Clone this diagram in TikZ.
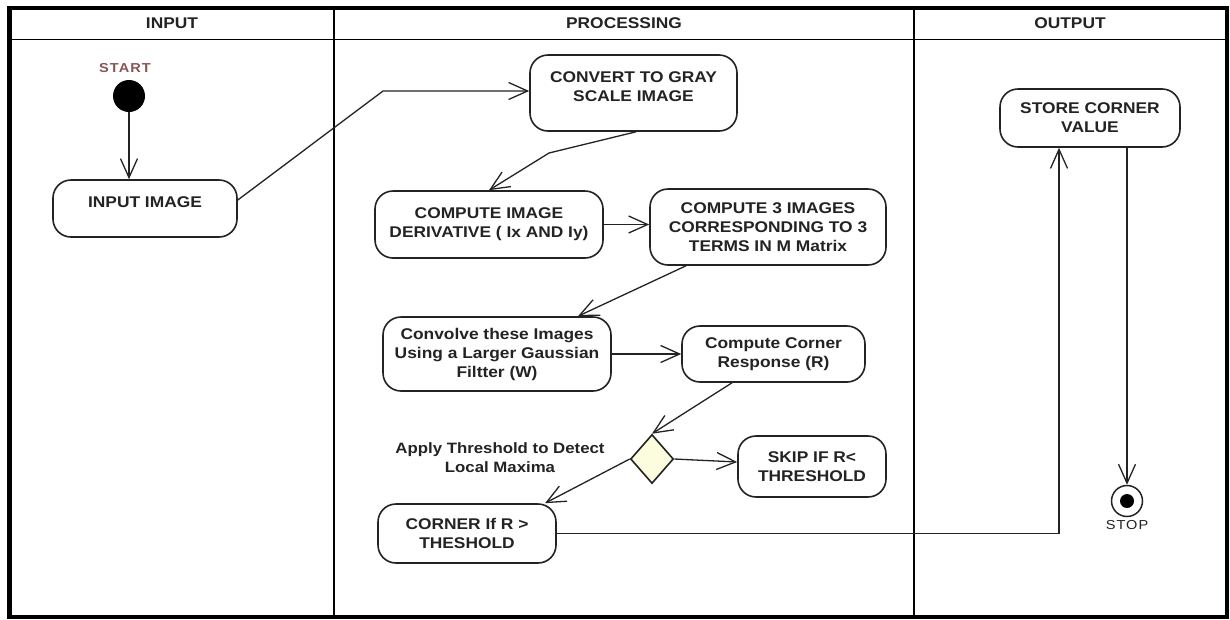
\documentclass[tikz,border=0pt]{standalone}
\usepackage{fontspec}
\setmainfont{Liberation Sans}[FakeStretch=1.12]
\newfontfamily\spacedfont{Liberation Sans}[FakeStretch=1.12,LetterSpace=8]
\usetikzlibrary{arrows.meta,shapes.geometric,calc}
\definecolor{inkc}{RGB}{35,35,35}
\definecolor{startc}{RGB}{135,85,85}
\definecolor{diamc}{RGB}{252,252,222}
\begin{document}
\begin{tikzpicture}[x=1pt,y=-1pt,
  actbox/.style={draw=inkc, line width=1.6pt, rounded corners=18pt, align=center,
    font=\fontsize{15.5}{19}\selectfont\bfseries, text=inkc, inner sep=0pt},
  flow/.style={draw=inkc, line width=1.3pt,
    -{Straight Barb[length=19pt,width=17pt,line width=1.3pt]}},
  lane/.style={draw=black, line width=1.5pt},
  headtxt/.style={font=\fontsize{15.5}{19}\selectfont\bfseries, text=inkc},
  smalltxt/.style={font=\spacedfont\fontsize{13}{15}\selectfont},
]
\useasboundingbox (0,0) rectangle (1230,619);
\fill[white] (0,0) rectangle (1230,619);
% frame and lanes
\draw[lane] (9.5,39.5) -- (1227,39.5);
\draw[lane] (334,8) -- (334,617);
\draw[lane] (914,8) -- (914,617);
\draw[line width=4.5pt] (9.5,8) rectangle (1227,617);
\node[headtxt] (hin) at (172,23) {INPUT};
\node[headtxt] (hproc) at (624,23) {PROCESSING};
\node[headtxt] (hout) at (1070,23) {OUTPUT};

% start
\node[smalltxt, font=\spacedfont\bfseries\fontsize{13}{15}\selectfont, text=startc] (startlbl) at (125,68) {START};
\node[circle, fill=black, minimum size=32pt, inner sep=0pt] (start) at (129,96) {};

% activity boxes
\node[actbox, minimum width=184pt, minimum height=57pt] (inimg) at (145,208.5) {INPUT IMAGE\\[-12pt]\strut};
\node[actbox, minimum width=207pt, minimum height=76pt] (convert) at (633.5,93) {CONVERT TO GRAY\\SCALE IMAGE\\[-12pt]\strut};
\node[actbox, minimum width=228pt, minimum height=67pt] (deriv) at (489,224.5) {COMPUTE IMAGE\\DERIVATIVE ( Ix AND Iy)};
\node[actbox, minimum width=236pt, minimum height=76pt] (three) at (768,227) {COMPUTE 3 IMAGES\\CORRESPONDING TO 3\\TERMS IN M Matrix};
\node[actbox, minimum width=228pt, minimum height=74pt] (convolve) at (497,354) {Convolve these Images\\Using a Larger Gaussian\\Filtter (W)};
\node[actbox, minimum width=183pt, minimum height=56pt] (cresp) at (773.5,354) {Compute Corner\\Response (R)};
\node[diamond, draw=inkc, fill=diamc, line width=1.6pt, minimum width=43pt, minimum height=49pt, inner sep=0pt] (dec) at (652,459) {};
\node[font=\fontsize{15}{19}\selectfont\bfseries, text=inkc, align=center] (thr) at (500,457.5) {Apply Threshold to Detect\\Local Maxima};
\node[actbox, minimum width=148pt, minimum height=61pt] (skip) at (812,466.5) {SKIP IF R<\\THRESHOLD};
\node[actbox, minimum width=178pt, minimum height=59pt] (cornerif) at (467,533.5) {CORNER If R >\\THESHOLD};
\node[actbox, minimum width=180pt, minimum height=58pt] (store) at (1090,118) {STORE CORNER\\VALUE};

% stop
\node[circle, draw=inkc, line width=1.5pt, minimum size=31pt, inner sep=0pt] (stop) at (1127,501) {};
\fill[black] (stop.center) circle (7pt);
\node[smalltxt, text=inkc] (stoplbl) at (1127,525) {STOP};

% connectors
\coordinate (b1) at (383,91);
\coordinate (b2) at (549,153);
\draw[flow] (start) -- (start |- inimg.north);
\draw[flow] ([yshift=8.5pt]inimg.east) -- (b1) -- (b1 -| convert.west);
\draw[flow] ([xshift=2.5pt]convert.south) -- (b2) -- (deriv.north);
\draw[flow] (deriv.east) -- (deriv.east -| three.west);
\draw[flow] ([xshift=-82pt]three.south) -- ([xshift=81pt]convolve.north);
\draw[flow] (convolve.east) -- (cresp.west);
\draw[flow] ([xshift=-41.5pt]cresp.south) -- (dec.north);
\draw[flow] (dec.east) -- ([yshift=4.5pt]skip.west);
\draw[flow] (dec.west) -- ([xshift=78pt]cornerif.north);
\draw[flow] (cornerif.east) -| ([xshift=-31pt]store.south);
\draw[flow] ([xshift=37pt]store.south) -- (stop.north);
\end{tikzpicture}
\end{document}
